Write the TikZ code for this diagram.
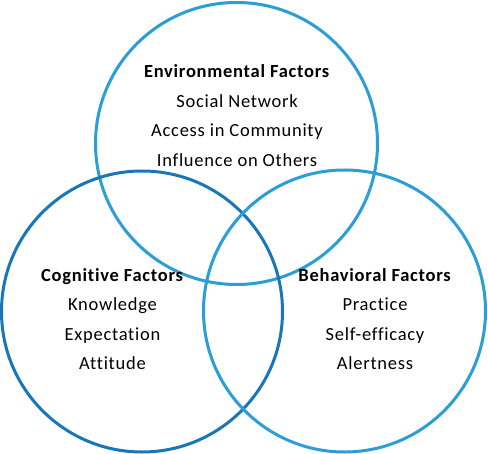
\documentclass[tikz,border=0pt]{standalone}
\usepackage{fontspec}
\setmainfont{Carlito}[LetterSpace=4,Ligatures=NoCommon]
\definecolor{cdark}{RGB}{25,118,184}
\definecolor{clight}{RGB}{43,157,215}
\begin{document}
\begin{tikzpicture}[x=1bp,y=-1bp,
  ring/.style={line width=3bp},
  label/.style={align=center,font=\fontsize{18.5bp}{29.5bp}\selectfont,inner sep=0pt}]
\useasboundingbox (0,0) rectangle (488,454);
\fill[white] (0,0) rectangle (488,454);
\draw[ring,clight] (236.5,143.5) circle[radius=141];
\draw[ring,cdark] (142,311.5) circle[radius=140.5];
\draw[ring,clight] (344.5,311) circle[radius=141];
\node[label] (env) at (237,115.5) {\textbf{Environmental Factors}\\Social Network\\Access in Community\\Influence on Others};
\node[label] (cog) at (112.5,319) {\textbf{Cognitive Factors}\\Knowledge\\Expectation\\Attitude};
\node[label] (beh) at (375,319) {\textbf{Behavioral Factors}\\Practice\\Self-efficacy\\Alertness};
\end{tikzpicture}
\end{document}
